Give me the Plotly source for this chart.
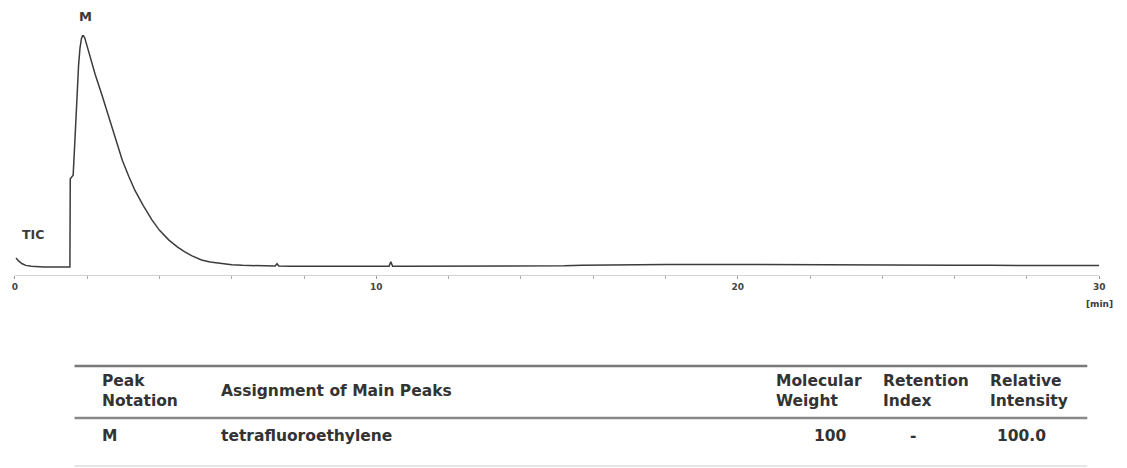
import plotly.graph_objects as go

# page body has an 8px margin, so the figure is placed at (8, 8)
OFF = 8
W, H = 1127 - OFF, 468 - OFF

# ---- chromatogram data (time in min, intensity in % of max) ----
time = [0.03, 0.10, 0.20, 0.30, 0.45, 0.60, 0.80, 1.00, 1.20, 1.40, 1.52, 1.53, 1.56, 1.61,
        1.66, 1.71, 1.76, 1.80, 1.84, 1.88, 1.93, 2.00, 2.10, 2.22, 2.40, 2.55, 2.69,
        2.83, 2.97, 3.15, 3.32, 3.55, 3.79, 4.00, 4.26, 4.50, 4.70, 4.90, 5.16,
        5.40, 5.70, 6.00, 6.30, 6.60, 7.00, 7.20, 7.25, 7.30, 7.60, 8.00, 8.50, 9.00,
        9.50, 10.00, 10.35, 10.40, 10.45, 10.80, 11.50, 12.50, 13.50, 14.50, 15.20,
        15.70, 16.20, 17.00, 18.00, 19.00, 20.00, 21.00, 22.00, 23.00, 24.00, 25.00,
        26.00, 27.00, 28.00, 29.00, 30.00]
intensity = [3.9, 2.6, 1.4, 0.7, 0.3, 0.1, 0.0, 0.0, 0.0, 0.0, 0.0, 38.0, 38.8, 39.6,
             55.0, 72.0, 87.0, 94.5, 98.5, 100.0, 98.8, 95.0, 89.5, 83.0, 74.5, 67.0, 59.0,
             52.5, 46.0, 39.0, 33.0, 26.5, 20.3, 15.8, 11.6, 8.6, 6.5, 4.8, 3.0,
             2.2, 1.5, 1.0, 0.7, 0.5, 0.4, 0.4, 1.4, 0.4, 0.3, 0.3, 0.3, 0.3,
             0.3, 0.3, 0.3, 2.2, 0.3, 0.3, 0.3, 0.3, 0.3, 0.4, 0.5,
             0.8, 0.9, 1.0, 1.1, 1.1, 1.1, 1.0, 1.0, 0.9, 0.9, 0.8,
             0.8, 0.7, 0.7, 0.6, 0.6]

tick_vals = [0, 10, 20, 30]
tick_text = ["0", "10", "20", "30"]

# ---- table data ----
table_headers = ["Peak<br>Notation", "Assignment of Main Peaks", "Molecular<br>Weight",
                 "Retention<br>Index", "Relative<br>Intensity"]
peak_notation = ["M"]
assignment = ["tetrafluoroethylene"]
mol_weight = ["100"]
retention_index = ["-"]
rel_intensity = ["100.0"]

FONT = "DejaVu Sans, Verdana, sans-serif"
TXT = "#333333"


def px(x):
    return (x - OFF) / W


def py(y):
    return 1 - (y - OFF) / H


fig = go.Figure()
fig.add_trace(go.Scatter(x=time, y=intensity, mode="lines",
                         line=dict(color="#3c3c3c", width=1.5),
                         hoverinfo="skip", showlegend=False))

fig.update_layout(
    width=W, height=H,
    margin=dict(l=0, r=0, t=0, b=0),
    paper_bgcolor="white", plot_bgcolor="white",
    font=dict(family=FONT, color=TXT),
    xaxis=dict(domain=[px(12), px(1105)], range=[0, 30], showgrid=False, zeroline=False,
               showline=True, linecolor="#d4d4d4", linewidth=1,
               ticks="outside", ticklen=3, tickcolor="#999", tickwidth=1,
               tickvals=tick_vals, ticktext=["<b>%s</b>" % t for t in tick_text],
               tickfont=dict(family=FONT, size=9, color="#444"),
               minor=dict(dtick=2, tick0=0, ticks="outside", ticklen=3,
                          tickcolor="#aaa", showgrid=False)),
    yaxis=dict(domain=[py(275), py(35)], range=[-3.45, 100], visible=False),
)

anns = [
    dict(text="<b>M</b>", x=83, y=16, size=13),
    dict(text="<b>TIC</b>", x=30, y=234, size=12.5),
    dict(text="<b>[min]</b>", x=1105, y=304, size=9),
]
for a in anns:
    fig.add_annotation(text=a["text"], x=px(a["x"]), y=py(a["y"]), xref="paper",
                       yref="paper", showarrow=False, xanchor="center", yanchor="middle",
                       font=dict(family=FONT, size=a["size"], color="#3a3a3a"))

# table rules
for y, w, c in [(366, 2.5, "#7a7a7a"), (418, 2.5, "#8a8a8a"), (466, 1, "#cccccc")]:
    fig.add_shape(type="line", xref="paper", yref="paper",
                  x0=px(72), x1=px(1093), y0=py(y), y1=py(y),
                  line=dict(color=c, width=w))

header_x = [98, 218, 777, 885, 993]
for hx, ht in zip(header_x, table_headers):
    fig.add_annotation(text="<b>%s</b>" % ht, x=px(hx), y=py(391), xref="paper",
                       yref="paper", showarrow=False, xanchor="left", yanchor="middle",
                       align="left", font=dict(family=FONT, size=15.5, color=TXT))

rows = list(zip(peak_notation, assignment, mol_weight, retention_index, rel_intensity))
for r in rows:
    cells = [(r[0], 98, "left"), (r[1], 218, "left"), (r[2], 834, "center"),
             (r[3], 917, "center"), (r[4], 1027, "center")]
    for txt, cx, anc in cells:
        fig.add_annotation(text="<b>%s</b>" % txt, x=px(cx), y=py(436), xref="paper",
                           yref="paper", showarrow=False, xanchor=anc, yanchor="middle",
                           font=dict(family=FONT, size=15.5, color=TXT))

fig.write_html("out.html")
